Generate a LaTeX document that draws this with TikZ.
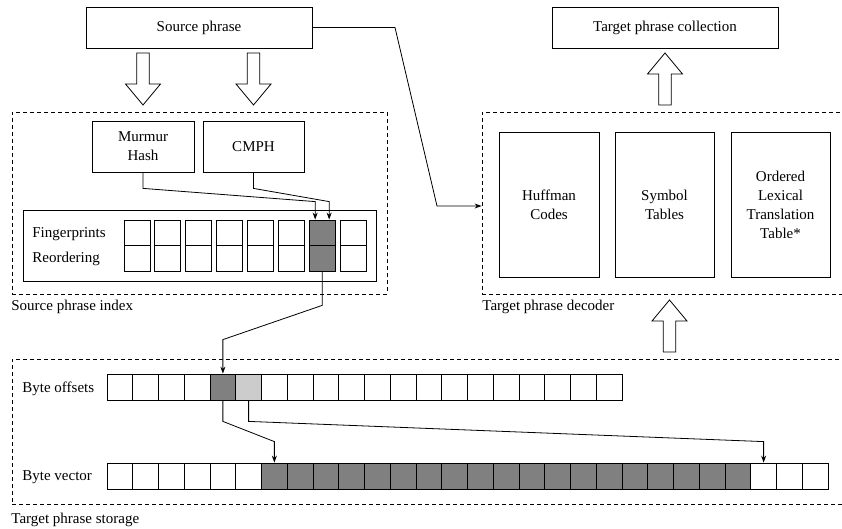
\documentclass[tikz,border=0pt]{standalone}
\usepackage{fontspec}
\setmainfont{Liberation Serif}
\usetikzlibrary{arrows.meta}

\begin{document}
\begin{tikzpicture}[x=1pt,y=-1pt,line width=0.8pt,
  every node/.style={inner sep=0pt,font=\fontsize{15}{19}\selectfont},
  box/.style={draw,align=center},
  region/.style={draw,dash pattern=on 4pt off 3pt},
  cell/.style={draw,minimum width=25.75pt,minimum height=26pt},
  fpcell/.style={draw,minimum width=26pt,minimum height=25.5pt},
  conn/.style={-{Stealth[length=7pt,width=5pt]}},
  fatarrow/.pic={\draw (-6.25,0) -- (-6.25,31) -- (-17.5,31) -- (0,52) -- (17.5,31) -- (6.25,31) -- (6.25,0) -- cycle;}]
\useasboundingbox (0,0) rectangle (842,529);
\clip (0,0) rectangle (842,529);

% top row
\node[box,minimum width=226pt,minimum height=41pt] (src) at (199,27.5) {Source phrase};
\node[box,minimum width=226pt,minimum height=41pt] (tgt) at (665,27.5) {Target phrase collection};
\pic at (143,53) {fatarrow};
\pic at (253.5,53) {fatarrow};
\pic[rotate=180] at (665,105) {fatarrow};

% source phrase index
\node[region,minimum width=375pt,minimum height=182pt] (idx) at (199.5,203) {};
\node[anchor=base west] (idxlabel) at (11,310) {Source phrase index};
\node[box,minimum width=102pt,minimum height=51pt] (mm) at (143,146.5) {Murmur\\Hash};
\node[box,minimum width=101pt,minimum height=51pt] (cm) at (253.5,146.5) {CMPH};
\node[draw,minimum width=353pt,minimum height=71pt] (tab) at (199.5,245.5) {};
\node[anchor=base west] (fplabel) at (32,237) {Fingerprints};
\node[anchor=base west] (rolabel) at (32,262) {Reordering};
\foreach \i [evaluate=\i as \g using {int((\i==7)*50)}] in {1,...,8} {
  \node[fpcell,fill=black!\g] (fp\i) at ({137+30.86*(\i-1)},232.75) {};
  \node[fpcell,fill=black!\g] (ro\i) at ({137+30.86*(\i-1)},258.25) {};
}
\draw[conn] (mm.south) -- ++(0,16) -- ([xshift=-7pt,yshift=18pt]fp7.north) -- ([xshift=-7pt]fp7.north);
\draw[conn] (cm.south) -- ++(0,16) -- ([xshift=7pt,yshift=18pt]fp7.north) -- ([xshift=7pt]fp7.north);

% target phrase decoder
\node[region,minimum width=368pt,minimum height=182pt] (dec) at (666,203) {};
\node[anchor=base west] (declabel) at (482,310) {Target phrase decoder};
\node[box,minimum width=100pt,minimum height=145pt] (huff) at (549,204.5) {Huffman\\Codes};
\node[box,minimum width=99pt,minimum height=145pt] (sym) at (664.5,204.5) {Symbol\\Tables};
\node[box,minimum width=99pt,minimum height=145pt] (lex) at (780.5,204.5) {Ordered\\Lexical\\Translation\\Table*};
\coordinate (bendA) at (395,27.5);
\coordinate (bendB) at (437,206);
\draw[conn] (src.east) -- (bendA) -- (bendB) -- (dec.west |- bendB);
\pic[rotate=180] at (669.5,352) {fatarrow};

% target phrase storage
\node[region,minimum width=838pt,minimum height=145pt] (store) at (431,431.5) {};
\node[anchor=base west] (storelabel) at (11,523) {Target phrase storage};
\node[anchor=base west] (bolabel) at (22,392) {Byte offsets};
\node[anchor=base west] (bvlabel) at (22,480) {Byte vector};
\foreach \i [evaluate=\i as \g using {int((\i==5)*50+(\i==6)*20)}] in {1,...,20}
  \node[cell,fill=black!\g] (bo\i) at ({119.875+25.75*(\i-1)},387) {};
\foreach \i [evaluate=\i as \g using {int((\i>6)*(\i<26)*50)}] in {1,...,28}
  \node[cell,fill=black!\g] (bv\i) at ({119.875+25.75*(\i-1)},476) {};
\draw[conn] (ro7.south) -- ++(0,34) -- ([yshift=34pt]bo5.north) -- (bo5.north);
\draw[conn] (bo5.south) -- ++(0,21) -- ([yshift=21pt]bv7.north) -- (bv7.north);
\draw[conn] (bo6.south) -- ++(0,21) -- ([yshift=21pt]bv26.north) -- (bv26.north);
\end{tikzpicture}
\end{document}
